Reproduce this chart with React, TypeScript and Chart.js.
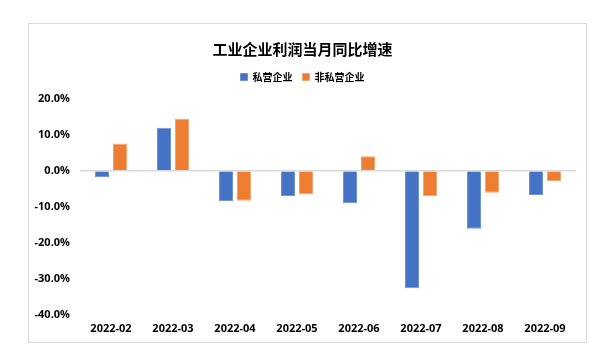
import React, { useEffect, useRef } from "react";
import { Chart, registerables } from "chart.js";

Chart.register(...registerables);

const categories = ["2022-02", "2022-03", "2022-04", "2022-05", "2022-06", "2022-07", "2022-08", "2022-09"];
const privateValues = [-1.8, 11.9, -8.4, -7.0, -9.0, -32.6, -16.1, -6.7];
const nonPrivateValues = [7.6, 14.4, -8.3, -6.5, 4.0, -7.0, -6.1, -2.8];
const seriesNames = ["私营企业", "非私营企业"];
const titleText = "工业企业利润当月同比增速";
const yTickValues = [-40, -30, -20, -10, 0, 10, 20];

const FONT = '"Open Sans", "Noto Sans CJK SC", sans-serif';
const CJK = '"Noto Sans CJK SC", sans-serif';

export default function App() {
  const ref = useRef<HTMLCanvasElement | null>(null);

  useEffect(() => {
    if (!ref.current) return;
    const chart = new Chart(ref.current, {
      type: "bar",
      data: {
        labels: categories,
        datasets: [
          {
            label: seriesNames[0],
            data: privateValues,
            backgroundColor: "#4472C4",
            borderColor: "#6F93D4",
            borderWidth: 1,
            categoryPercentage: 0.58,
            barPercentage: 0.78,
          },
          {
            label: seriesNames[1],
            data: nonPrivateValues,
            backgroundColor: "#ED7D31",
            borderColor: "#F3A56F",
            borderWidth: 1,
            categoryPercentage: 0.58,
            barPercentage: 0.78,
          },
        ],
      },
      options: {
        animation: false,
        responsive: false,
        maintainAspectRatio: false,
        layout: { padding: { left: 0, right: 10, top: 0, bottom: 0 } },
        plugins: {
          title: {
            display: true,
            text: titleText,
            color: "#000",
            font: { family: CJK, size: 15, weight: "bold" },
            padding: { top: 16, bottom: 4 },
          },
          legend: {
            display: true,
            position: "top",
            labels: {
              color: "#000",
              font: { family: CJK, size: 10, weight: "bold" },
              boxWidth: 7,
              boxHeight: 7,
              padding: 10,
            },
          },
          tooltip: { enabled: false },
        },
        scales: {
          x: {
            grid: { display: false, drawTicks: false },
            border: { display: false },
            ticks: {
              color: "#000",
              font: { family: FONT, size: 11, weight: "bold" },
              padding: 7,
              maxRotation: 0,
            },
            afterFit: (s: any) => {
              s.height = 27;
            },
          },
          y: {
            min: -40,
            max: 21.85,
            grid: {
              drawTicks: false,
              color: (c: any) => (c.tick && c.tick.value === 0 ? "#D9D9D9" : "rgba(0,0,0,0)"),
              lineWidth: 1.5,
            },
            border: { display: false },
            ticks: {
              stepSize: 10,
              color: "#000",
              font: { family: FONT, size: 11, weight: "bold" },
              padding: 10,
              callback: (v: any) => Number(v).toFixed(1) + "%",
            },
            afterBuildTicks: (s: any) => {
              s.ticks = yTickValues.map((v) => ({ value: v }));
            },
            afterFit: (s: any) => {
              s.width = 51;
            },
          },
        },
      },
    });
    return () => chart.destroy();
  }, []);

  return (
    <div style={{ position: "absolute", left: 0, top: 0, width: 616, height: 361, background: "#fff" }}>
      <div
        style={{
          position: "absolute",
          left: 28,
          top: 23,
          width: 557,
          height: 318,
          border: "1px solid #D9D9D9",
        }}
      >
        <canvas ref={ref} width={557} height={318} style={{ display: "block", width: 557, height: 318 }} />
      </div>
    </div>
  );
}
